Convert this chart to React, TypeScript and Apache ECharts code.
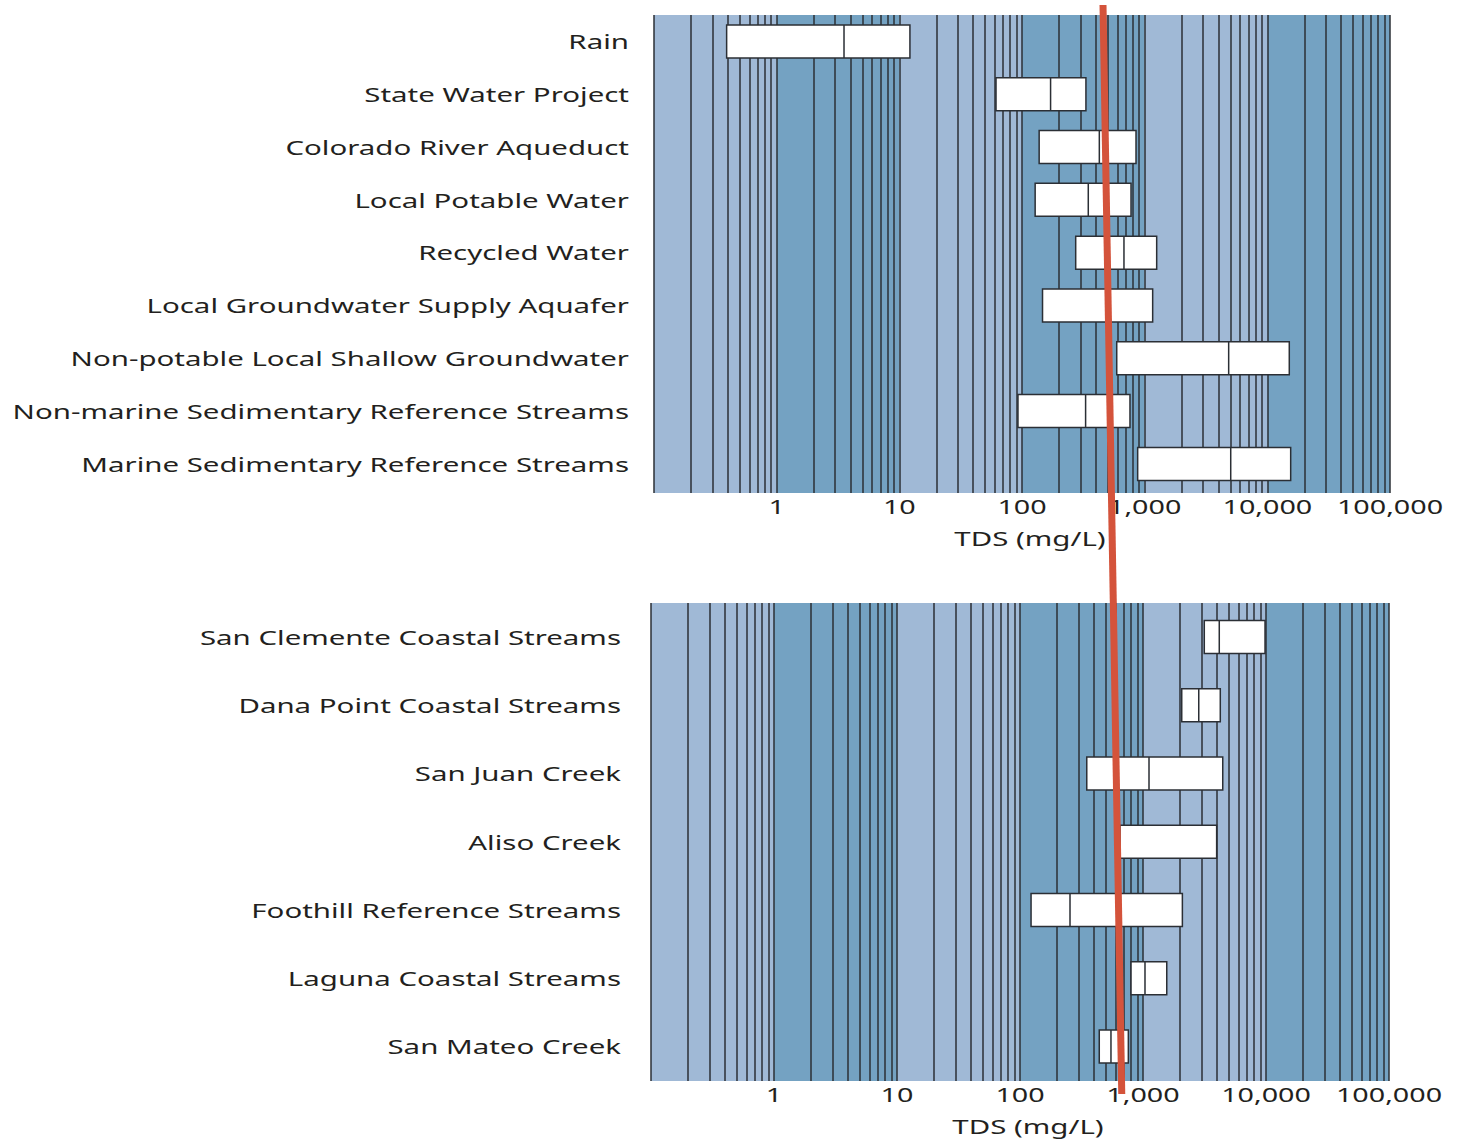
import React, { useEffect, useRef } from "react";
import * as echarts from "echarts";

// ---------- data ----------
const TOP_CATEGORIES = [
  "Rain",
  "State Water Project",
  "Colorado River Aqueduct",
  "Local Potable Water",
  "Recycled Water",
  "Local Groundwater Supply Aquafer",
  "Non-potable Local Shallow Groundwater",
  "Non-marine Sedimentary Reference Streams",
  "Marine Sedimentary Reference Streams",
];
const TOP_LOW = [0.391, 61.4, 138, 128, 274, 147, 592, 92.7, 877];
const TOP_MEDIAN = [3.54, 171, 427, 347, 678, 502, 4840, 330, 5030];
const TOP_HIGH = [12.2, 332, 850, 774, 1253, 1162, 15100, 759, 15500];

const BOTTOM_CATEGORIES = [
  "San Clemente Coastal Streams",
  "Dana Point Coastal Streams",
  "San Juan Creek",
  "Aliso Creek",
  "Foothill Reference Streams",
  "Laguna Coastal Streams",
  "San Mateo Creek",
];
const BOTTOM_LOW = [3150, 2065, 349, 650, 123, 799, 441];
const BOTTOM_MEDIAN = [4170, 2840, 1119, 650, 255, 1038, 549];
const BOTTOM_HIGH = [9820, 4250, 4450, 3970, 2090, 1560, 760];

const TICK_VALUES = [1, 10, 100, 1000, 10000, 100000];
const TICK_LABELS = ["1", "10", "100", "1,000", "10,000", "100,000"];
const AXIS_MIN = 0.1;
const AXIS_MAX = 100000;
const AXIS_NAME = "TDS (mg/L)";
const DECADES = [0.1, 1, 10, 100, 1000, 10000];
const MULTIPLIERS = [1, 2, 3, 4, 5, 6, 7, 8, 9];
// TDS where the red reference line crosses the top of the upper panel / bottom of the lower panel
const REFERENCE_TDS_TOP = 459;
const REFERENCE_TDS_BOTTOM = 669;

// ---------- style ----------
const LIGHT = "#a0b9d6";
const DARK = "#74a2c2";
const LINE_COLOR = "#2b2f35";
const TEXT_COLOR = "#231f20";
const FONT = "'Noto Sans', 'Open Sans', sans-serif";
const SX = 1.51;

// panels: box grid (category centres) and background grid (coloured plot area)
const BOX_GRIDS = [
  { left: 654, top: 15, width: 736, height: 475.3, labelGap: 25 },
  { left: 651, top: 603, width: 738, height: 477.5, labelGap: 30 },
];
const BG_GRIDS = [
  { left: 654, top: 15, width: 736, height: 478 },
  { left: 651, top: 603, width: 738, height: 478 },
];

const gridLineValues: number[] = [];
DECADES.forEach((d) => MULTIPLIERS.forEach((m) => gridLineValues.push(+(d * m).toPrecision(6))));
gridLineValues.push(AXIS_MAX);

const bandData = DECADES.map((d, i) => [
  { xAxis: d, itemStyle: { color: i % 2 === 0 ? LIGHT : DARK, opacity: 1 } },
  { xAxis: d * 10 },
]);

function boxData(low: number[], med: number[], high: number[]) {
  return low.map((l, i) => [l, l, med[i], high[i], high[i]]);
}

const logAxis = (gridIndex: number) => ({
  type: "log",
  logBase: 10,
  gridIndex,
  min: AXIS_MIN,
  max: AXIS_MAX,
  axisLine: { show: false },
  axisTick: { show: false },
  axisLabel: { show: false },
  splitLine: { show: false },
});

export default function App() {
  const ref = useRef<HTMLDivElement>(null);

  useEffect(() => {
    document.body.style.margin = "0";
    if (!ref.current) return;
    const chart = echarts.init(ref.current, undefined, { renderer: "svg" });

    const panels = [
      { cats: TOP_CATEGORIES, data: boxData(TOP_LOW, TOP_MEDIAN, TOP_HIGH) },
      { cats: BOTTOM_CATEGORIES, data: boxData(BOTTOM_LOW, BOTTOM_MEDIAN, BOTTOM_HIGH) },
    ];

    chart.setOption({
      animation: false,
      grid: [...BOX_GRIDS, ...BG_GRIDS].map((g) => ({ left: g.left, top: g.top, width: g.width, height: g.height })),
      xAxis: [logAxis(0), logAxis(1), logAxis(2), logAxis(3)],
      yAxis: [
        ...panels.map((p, i) => ({
          type: "category",
          gridIndex: i,
          data: p.cats,
          inverse: true,
          axisLine: { show: false },
          axisTick: { show: false },
          axisLabel: { show: false },
          splitLine: { show: false },
        })),
        ...[2, 3].map((i) => ({
          type: "value",
          gridIndex: i,
          min: 0,
          max: 1,
          show: false,
          splitLine: { show: false },
        })),
      ],
      series: [
        ...[2, 3].map((i) => ({
          type: "scatter",
          xAxisIndex: i,
          yAxisIndex: i,
          data: [],
          silent: true,
          markArea: { silent: true, z: 1, data: bandData },
          markLine: {
            silent: true,
            z: 3,
            symbol: ["none", "none"],
            label: { show: false },
            lineStyle: { color: LINE_COLOR, width: 1.5, type: "solid" },
            data: gridLineValues.map((v) => ({ xAxis: v })),
          },
        })),
        ...panels.map((p, i) => ({
          type: "boxplot",
          xAxisIndex: i,
          yAxisIndex: i,
          data: p.data,
          boxWidth: [33, 33],
          z: 10,
          itemStyle: { color: "#ffffff", borderColor: LINE_COLOR, borderWidth: 1.5 },
        })),
      ],
    });

    const graphics: any[] = [];
    panels.forEach((p, i) => {
      const g = BOX_GRIDS[i];
      const bg = BG_GRIDS[i];
      p.cats.forEach((c) => {
        const y = chart.convertToPixel({ yAxisIndex: i } as any, c) as number;
        graphics.push({
          type: "text",
          x: g.left - g.labelGap,
          y,
          scaleX: SX,
          z: 50,
          style: { text: c, fontSize: 19.5, fontFamily: FONT, fill: TEXT_COLOR, align: "right", verticalAlign: "middle" },
        });
      });
      TICK_VALUES.forEach((v, k) => {
        const x = chart.convertToPixel({ xAxisIndex: i } as any, v) as number;
        graphics.push({
          type: "text",
          x,
          y: bg.top + bg.height + 14,
          scaleX: SX,
          z: 50,
          style: { text: TICK_LABELS[k], fontSize: 19, fontFamily: FONT, fill: TEXT_COLOR, align: "center", verticalAlign: "middle" },
        });
      });
      graphics.push({
        type: "text",
        x: bg.left + bg.width / 2 + 8,
        y: bg.top + bg.height + 45,
        scaleX: SX,
        z: 50,
        style: { text: AXIS_NAME, fontSize: 19.5, fontFamily: FONT, fill: TEXT_COLOR, align: "center", verticalAlign: "middle" },
      });
    });

    const yTop = BG_GRIDS[0].top;
    const yBot = BG_GRIDS[1].top + BG_GRIDS[1].height;
    const xTop = chart.convertToPixel({ xAxisIndex: 0 } as any, REFERENCE_TDS_TOP) as number;
    const xBot = chart.convertToPixel({ xAxisIndex: 1 } as any, REFERENCE_TDS_BOTTOM) as number;
    const slope = (xBot - xTop) / (yBot - yTop);
    graphics.push({
      type: "line",
      z: 100,
      shape: { x1: xTop - slope * 10, y1: yTop - 10, x2: xBot + slope * 13, y2: yBot + 13 },
      style: { stroke: "#d4533b", lineWidth: 7 },
    });

    chart.setOption({ graphic: graphics });

    return () => chart.dispose();
  }, []);

  return <div ref={ref} style={{ width: 1466, height: 1139 }} />;
}
